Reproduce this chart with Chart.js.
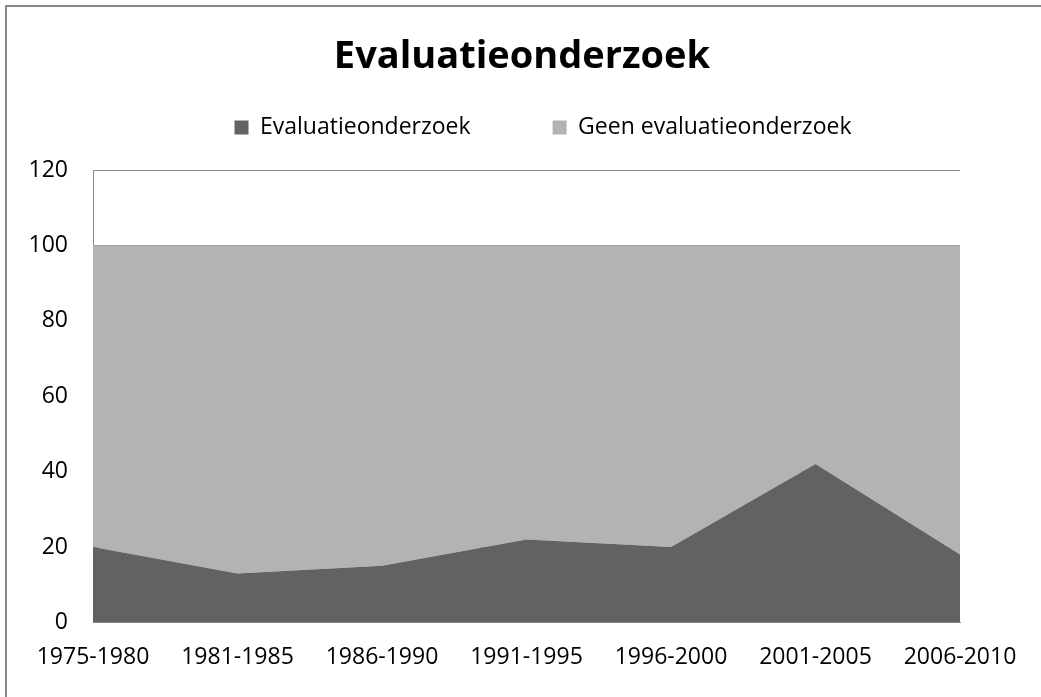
<!DOCTYPE html>
<html>
<head>
<meta charset="utf-8">
<script src="https://cdn.jsdelivr.net/npm/chart.js@4"></script>
<style>
  html, body { margin: 0; padding: 0; background: #fff; overflow: hidden; }
  #wrap { width: 1041px; height: 697px; }
</style>
</head>
<body>
<div id="wrap"><canvas id="evalChart" width="1041" height="697"></canvas></div>
<script>
const periods = ['1975-1980', '1981-1985', '1986-1990', '1991-1995', '1996-2000', '2001-2005', '2006-2010'];
const evaluatie = [20, 13, 15, 22, 20, 42, 18];
const geenEvaluatie = [80, 87, 85, 78, 80, 58, 82];
const yTicks = [0, 20, 40, 60, 80, 100, 120];

const fontName = '"Open Sans", "Noto Sans", sans-serif';

// outer frame like the Excel chart border (only top and left edges fall inside the picture)
const frame = {
    id: 'frame',
    beforeDraw(chart) {
        const c = chart.ctx;
        c.save();
        c.strokeStyle = '#898989';
        c.lineWidth = 2;
        c.beginPath();
        c.moveTo(6, chart.height + 5);
        c.lineTo(6, 6);
        c.lineTo(chart.width + 5, 6);
        c.stroke();
        c.restore();
    }
};

// Excel centres title and legend on the whole frame, not on the plot box
const headerShift = {
    id: 'headerShift',
    afterLayout(chart) {
        const t = chart.titleBlock, l = chart.legend;
        if (t) { t.left += 32; t.right += 32; }
        if (l) { l.left += 53; l.right += 53; }
    }
};

const ctx = document.getElementById('evalChart').getContext('2d');

new Chart(ctx, {
    type: 'line',
    data: {
        labels: periods,
        datasets: [{
            label: 'Evaluatieonderzoek',
            data: evaluatie,
            backgroundColor: '#626262',
            borderColor: '#626262',
            borderWidth: 0,
            pointRadius: 0,
            fill: 'origin'
        }, {
            label: 'Geen evaluatieonderzoek',
            data: geenEvaluatie,
            backgroundColor: '#b3b3b3',
            borderColor: '#b3b3b3',
            borderWidth: 0,
            pointRadius: 0,
            fill: '-1'
        }]
    },
    options: {
        responsive: false,
        animation: false,
        layout: { padding: { left: 20, right: 81, top: 0, bottom: 5 } },
        elements: { line: { tension: 0 } },
        scales: {
            x: {
                offset: false,
                grid: { display: false, drawTicks: false },
                border: { display: true, color: '#8c8c8c', width: 1 },
                ticks: {
                    autoSkip: false,
                    maxRotation: 0,
                    padding: 21,
                    color: '#000',
                    font: { family: fontName, size: 23 }
                }
            },
            y: {
                stacked: true,
                min: 0,
                max: 120,
                afterBuildTicks: (axis) => { axis.ticks = yTicks.map(v => ({ value: v })); },
                afterFit: (axis) => { axis.width = 73; },
                grid: { color: '#8c8c8c', drawTicks: false },
                border: { display: true, color: '#8c8c8c', width: 1 },
                ticks: {
                    padding: 25,
                    color: '#000',
                    font: { family: fontName, size: 23 }
                }
            }
        },
        plugins: {
            title: {
                display: true,
                text: 'Evaluatieonderzoek',
                color: '#000',
                font: { family: fontName, size: 38, weight: 'bold', lineHeight: 1 },
                padding: { top: 38, bottom: -42 }
            },
            legend: {
                display: true,
                position: 'top',
                labels: {
                    boxWidth: 14,
                    boxHeight: 14,
                    padding: 82,
                    color: '#000',
                    font: { family: fontName, size: 23 }
                }
            },
            // empty spacer between legend and plot box
            subtitle: {
                display: true,
                text: ' ',
                weight: 500,
                font: { size: 10, lineHeight: 1 },
                padding: { top: 0, bottom: 11 }
            },
            tooltip: { enabled: false }
        }
    },
    plugins: [frame, headerShift]
});
</script>
</body>
</html>
